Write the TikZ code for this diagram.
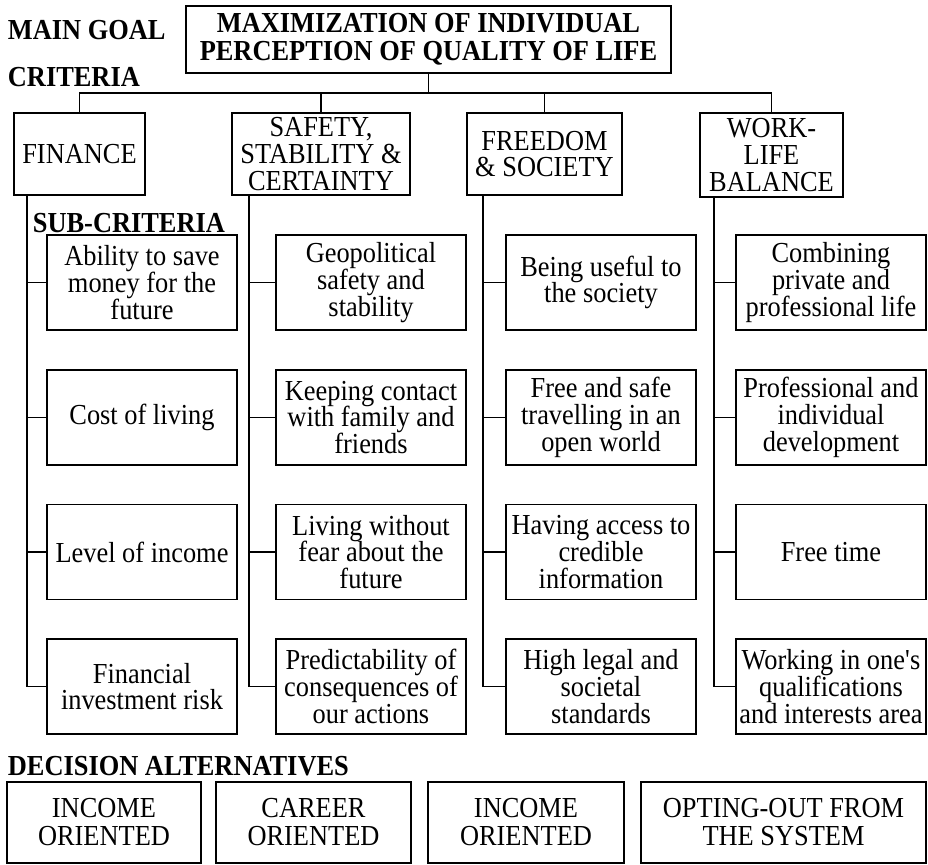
\documentclass[tikz,border=0pt]{standalone}
\usepackage{fontspec}
\setmainfont{Liberation Serif}[FakeStretch=0.91]
\begin{document}
\begin{tikzpicture}[x=1pt,y=-1pt,
  line width=1.8pt,
  box/.style={draw, rectangle, inner sep=0pt, align=center,
    font=\fontsize{29pt}{26.7pt}\selectfont},
  goalbox/.style={box, minimum width=485, minimum height=67,
    font=\bfseries\fontsize{29pt}{28pt}\selectfont},
  critbox/.style={box, minimum height=82},
  subbox/.style={box, minimum width=190, minimum height=95},
  altbox/.style={box, line width=1.1pt, minimum height=81,
    font=\fontsize{29pt}{28pt}\selectfont},
  heading/.style={anchor=base west, inner sep=0pt,
    font=\bfseries\fontsize{29pt}{27pt}\selectfont},
  link/.style={draw, line width=1.8pt}]
\useasboundingbox (0,0) rectangle (928,864);

% headings
\node[heading] (hgoal) at (7,40) {MAIN GOAL};
\node[heading] (hcrit) at (7,87) {CRITERIA};
\node[heading] (hsub) at (32,232) {SUB-CRITERIA};
\node[heading] (halt) at (7,775) {DECISION ALTERNATIVES};

% main goal
\node[goalbox] (goal) at (428.5,39.5) {MAXIMIZATION OF INDIVIDUAL\\PERCEPTION OF QUALITY OF LIFE};

% criteria
\node[critbox, minimum width=131] (fin) at (79.5,154) {FINANCE};
\node[critbox, minimum width=178] (safe) at (321,154) {SAFETY,\\STABILITY \&\\CERTAINTY};
\node[critbox, minimum width=155] (free) at (544.5,154) {FREEDOM\\\& SOCIETY};
\node[critbox, minimum width=143, minimum height=84] (work) at (771.5,155) {WORK-\\LIFE\\BALANCE};

\coordinate (bus) at (428.5,93);
\draw[link] (goal.south) -- (bus);
\draw[link] (fin.north) |- (bus) -| (work.north);
\draw[link] (safe.north) -- (safe.north |- bus);
\draw[link] (free.north) -- (free.north |- bus);

% sub-criteria: finance
\node[subbox] (f1) at (142,282.5) {Ability to save\\money for the\\future};
\node[subbox] (f2) at (142,417.5) {Cost of living};
\node[subbox] (f3) at (142,552) {Level of income};
\node[subbox] (f4) at (142,686.5) {Financial\\investment risk};
% sub-criteria: safety
\node[subbox] (s1) at (371,282.5) {Geopolitical\\safety and\\stability};
\node[subbox] (s2) at (371,417.5) {Keeping contact\\with family and\\friends};
\node[subbox] (s3) at (371,552) {Living without\\fear about the\\future};
\node[subbox] (s4) at (371,686.5) {Predictability of\\consequences of\\our actions};
% sub-criteria: freedom
\node[subbox] (r1) at (601,282.5) {Being useful to\\the society};
\node[subbox] (r2) at (601,417.5) {Free and safe\\travelling in an\\open world};
\node[subbox] (r3) at (601,552) {Having access to\\credible\\information};
\node[subbox] (r4) at (601,686.5) {High legal and\\societal\\standards};
% sub-criteria: work-life balance
\node[subbox] (w1) at (831,282.5) {Combining\\private and\\professional life};
\node[subbox] (w2) at (831,417.5) {Professional and\\individual\\development};
\node[subbox] (w3) at (831,552) {Free time};
\node[subbox] (w4) at (831,686.5) {Working in one\textquotesingle s\\qualifications\\and interests area};

% trunks from each criterion down to its sub-criteria
\coordinate (tf) at (27,195);
\coordinate (ts) at (249,195);
\coordinate (tr) at (483,195);
\coordinate (tw) at (714,197);
\draw[link] (tf) |- (f4.west);
\draw[link] (ts) |- (s4.west);
\draw[link] (tr) |- (r4.west);
\draw[link] (tw) |- (w4.west);
\foreach \n in {1,2,3}{
  \draw[link] (f\n.west -| tf) -- (f\n.west);
  \draw[link] (s\n.west -| ts) -- (s\n.west);
  \draw[link] (r\n.west -| tr) -- (r\n.west);
  \draw[link] (w\n.west -| tw) -- (w\n.west);
}

% decision alternatives
\node[altbox, minimum width=194] (a1) at (104,822.5) {INCOME\\ORIENTED};
\node[altbox, minimum width=195] (a2) at (313.5,822.5) {CAREER\\ORIENTED};
\node[altbox, minimum width=196] (a3) at (526,822.5) {INCOME\\ORIENTED};
\node[altbox, minimum width=285] (a4) at (783.5,822.5) {OPTING-OUT FROM\\THE SYSTEM};
\end{tikzpicture}
\end{document}
